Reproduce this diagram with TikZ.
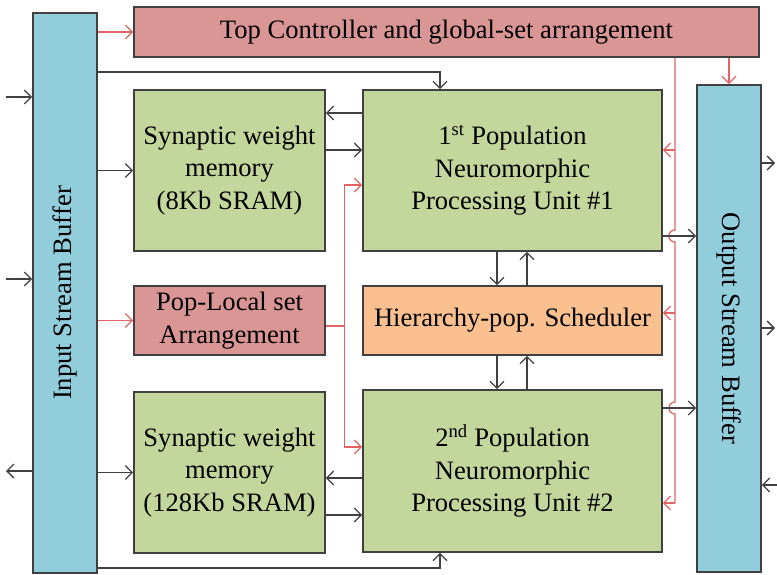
\documentclass[tikz,border=0pt]{standalone}
\usepackage{fontspec}
\setmainfont{Liberation Serif}
\usetikzlibrary{arrows.meta,calc}

\definecolor{bufblue}{RGB}{146,205,220}
\definecolor{setred}{RGB}{217,150,148}
\definecolor{memgreen}{RGB}{195,214,155}
\definecolor{schedorange}{RGB}{250,192,144}
\definecolor{linkred}{RGB}{226,100,100}
\definecolor{edgegray}{RGB}{64,64,64}
\newcommand{\diagfont}{\fontsize{26.6}{32.5}\selectfont}

\begin{document}
\begin{tikzpicture}[x=1pt,y=-1pt,
	blk/.style={draw=edgegray, line width=1.6pt, align=center, inner sep=0pt, font=\diagfont},
	link/.style={draw=edgegray, line width=1.3pt, -{Straight Barb[length=7pt,width=14pt]}},
	rline/.style={draw=linkred, line width=1.3pt},
	rlink/.style={rline, -{Straight Barb[length=7pt,width=14pt]}}]
				\useasboundingbox (0,0) rectangle (777,575);
				%buffers and controllers
				\node[blk, fill=bufblue, minimum width=64pt, minimum height=560pt, label={[rotate=90, font=\diagfont]center:Input Stream Buffer}] (inbuf) at (65,293) {};
				\node[blk, fill=bufblue, minimum width=64pt, minimum height=487pt, label={[rotate=-90, font=\diagfont]center:Output Stream Buffer}] (outbuf) at (729,328.5) {};
				\node[blk, fill=setred, minimum width=625pt, minimum height=50pt] (topctl) at (446.5,32) {Top Controller and global-set arrangement};
				\node[blk, fill=setred, minimum width=191pt, minimum height=69pt] (popl) at (229.5,320.5) {Pop-Local set\\Arrangement};
				%memories and units
				\node[blk, fill=memgreen, minimum width=191pt, minimum height=161pt] (syn1) at (229.5,170.5) {Synaptic weight\\memory\\(8Kb SRAM)};
				\node[blk, fill=memgreen, minimum width=191pt, minimum height=161pt] (syn2) at (229.5,472.5) {Synaptic weight\\memory\\(128Kb SRAM)};
				\node[blk, fill=memgreen, minimum width=299pt, minimum height=161pt] (pu1) at (512.5,170.5) {1\textsuperscript{st} Population\\Neuromorphic\\Processing Unit \#1};
				\node[blk, fill=schedorange, minimum width=299pt, minimum height=69pt] (sched) at (512.5,320.5) {Hierarchy-pop. Scheduler};
				\node[blk, fill=memgreen, minimum width=299pt, minimum height=162pt] (pu2) at (512.5,471) {2\textsuperscript{nd} Population\\Neuromorphic\\Processing Unit \#2};
				%outside ports
				\coordinate (i1) at (6,97);
				\coordinate (i2) at (6,279);
				\coordinate (i3) at (6,471);
				\coordinate (o1) at (775,163);
				\coordinate (o2) at (775,328);
				\coordinate (o3) at (777,485);
				\draw[link] (i1) -- (i1 -| inbuf.west);
				\draw[link] (i2) -- (i2 -| inbuf.west);
				\draw[link] (i3 -| inbuf.west) -- (i3);
				\draw[link] (o1 -| outbuf.east) -- (o1);
				\draw[link] (o2 -| outbuf.east) -- (o2);
				\draw[link] (o3) -- (o3 -| outbuf.east);
				%input buffer links
				\draw[rlink] (inbuf.east |- topctl.west) -- (topctl.west);
				\draw[link] (inbuf.east |- syn1.west) -- (syn1.west);
				\draw[rlink] (inbuf.east |- popl.west) -- (popl.west);
				\draw[link] (inbuf.east |- syn2.west) -- (syn2.west);
				\coordinate (t1) at ([xshift=-72.5pt]pu1.north);
				\coordinate (t2) at ([xshift=-72.5pt]pu2.south);
				\draw[link] (inbuf.east |- 0,72) -| (t1);
				\draw[link] (inbuf.east |- 0,568) -| (t2);
				%memory links
				\coordinate (a1) at ([yshift=57.5pt]pu1.west);
				\coordinate (a2) at ([yshift=20.5pt]syn1.east);
				\coordinate (a3) at ([yshift=-7pt]pu2.west);
				\coordinate (a4) at ([yshift=-42.5pt]syn2.east);
				\draw[link] (a1) -- (a1 -| syn1.east);
				\draw[link] (a2) -- (a2 -| pu1.west);
				\draw[link] (a3) -- (a3 -| syn2.east);
				\draw[link] (a4) -- (a4 -| pu2.west);
				%local set arrangement
				\coordinate (pj) at ([xshift=19pt,yshift=-5.5pt]popl.east);
				\coordinate (p1l) at ([yshift=-14.5pt]pu1.west);
				\coordinate (p2l) at ([yshift=24pt]pu2.west);
				\draw[rline] ([yshift=-5.5pt]popl.east) -- (pj);
				\draw[rlink] (pj) |- (p1l);
				\draw[rlink] (pj) |- (p2l);
				%scheduler
				\coordinate (d1) at ([xshift=-15.5pt]pu1.south);
				\coordinate (u1) at ([xshift=14.5pt]pu1.south);
				\coordinate (d2) at ([xshift=-15.5pt]sched.south);
				\coordinate (u2) at ([xshift=14.5pt]sched.south);
				\draw[link] (d1) -- (d1 |- sched.north);
				\draw[link] (u1 |- sched.north) -- (u1);
				\draw[link] (d2) -- (d2 |- pu2.north);
				\draw[link] (u2 |- pu2.north) -- (u2);
				%global set arrangement
				\coordinate (rtop) at ([xshift=228.5pt]topctl.south);
				\coordinate (r1) at ([yshift=20.5pt]pu1.east);
				\coordinate (r2) at ([yshift=7.5pt]sched.east);
				\coordinate (r3) at ([yshift=-32pt]pu2.east);
				\coordinate (b1) at ([yshift=-65.5pt]pu1.east);
				\coordinate (b2) at ([yshift=63pt]pu2.east);
				\draw[rline] (rtop) -- ($(rtop |- b1)+(0,-6)$) arc[start angle=90, end angle=270, radius=6pt]
					-- ($(rtop |- b2)+(0,-6)$) arc[start angle=90, end angle=270, radius=6pt] -- (rtop |- r3);
				\draw[rlink] (rtop |- r1) -- (r1);
				\draw[rlink] (rtop |- r2) -- (r2);
				\draw[rlink] (rtop |- r3) -- (r3);
				\draw[rlink] (topctl.south -| outbuf.north) -- (outbuf.north);
				%outputs
				\draw[link] (b1) -- (b1 -| outbuf.west);
				\draw[link] (b2) -- (b2 -| outbuf.west);
			\end{tikzpicture}
\end{document}
